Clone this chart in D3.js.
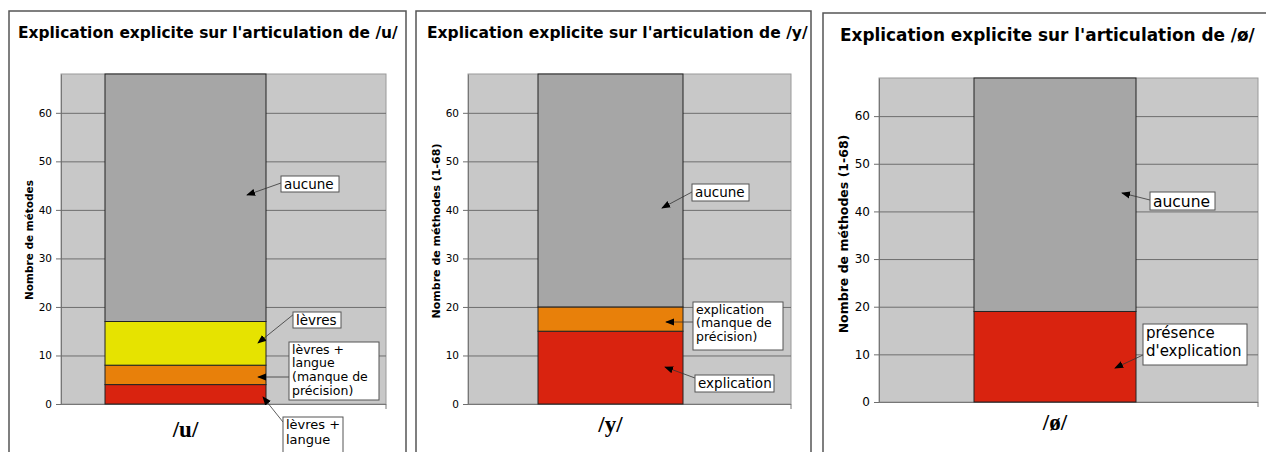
<!DOCTYPE html>
<html><head><meta charset="utf-8">
<script src="https://cdn.jsdelivr.net/npm/d3@7"></script>
<style>
html,body{margin:0;padding:0;background:#fff;}
svg{display:block;}
</style></head>
<body>
<svg id="c" width="1266" height="452"></svg>
<script>
// ---- data ----
const titles = [
  "Explication explicite sur l'articulation de /u/",
  "Explication explicite sur l'articulation de /y/",
  "Explication explicite sur l'articulation de /ø/"
];
const categories = ["/u/", "/y/", "/ø/"];
const yAxisLabels = ["Nombre de métodes", "Nombre de méthodes (1-68)", "Nombre de méthodes (1-68)"];
const yTicks = [0, 10, 20, 30, 40, 50, 60];
const yMax = 68;

// stacked segments (bottom to top)
const uSegments = ["lèvres + langue", "lèvres + langue (manque de précision)", "lèvres", "aucune"];
const uValues = [4, 4, 9, 51];
const ySegments = ["explication", "explication (manque de précision)", "aucune"];
const yValues = [15, 5, 48];
const oeSegments = ["présence d'explication", "aucune"];
const oeValues = [19, 49];

const segColor = {
  "lèvres + langue": "#d9230f",
  "lèvres + langue (manque de précision)": "#e8800a",
  "lèvres": "#e6e300",
  "aucune": "#a6a6a6",
  "explication": "#d9230f",
  "explication (manque de précision)": "#e8800a",
  "présence d'explication": "#d9230f"
};

const SANS = "'DejaVu Sans', Verdana, sans-serif";

// ---- layout (positions only) ----
const panels = [
  { border:[9,11,397,460], plot:[61,386,74,404], bar:[105,266], title:{x:18,y:38,w:380,fs:16},
    ylab:{x:33,y:240,fs:10.5}, tickFs:10.5, cat:{y:437,fs:23},
    segs:uSegments, vals:uValues,
    notes:[
      {seg:"aucune", lines:["aucune"], box:[281,176,339,192], tip:[247,195], from:[281,183], fs:13.5, lh:13},
      {seg:"lèvres", lines:["lèvres"], box:[293,312,341,328], tip:[258,343], from:[294,314], fs:13.5, lh:13},
      {seg:"lèvres + langue (manque de précision)", lines:["lèvres +","langue","(manque de","précision)"], box:[289,342,379,400], tip:[258,377], from:[289,377], fs:12.5, lh:13.6},
      {seg:"lèvres + langue", lines:["lèvres +","langue"], box:[283,417,343,458], tip:[263,397], from:[283,422], fs:13, lh:15}
    ]},
  { border:[416,11,395,460], plot:[468,791,74,404], bar:[538,683], title:{x:427,y:38,w:381,fs:16},
    ylab:{x:440,y:231,fs:11}, tickFs:10.5, cat:{y:432,fs:23},
    segs:ySegments, vals:yValues,
    notes:[
      {seg:"aucune", lines:["aucune"], box:[692,184,749,201], tip:[662,208], from:[692,192], fs:13.5, lh:13},
      {seg:"explication (manque de précision)", lines:["explication","(manque de","précision)"], box:[693,302,783,350], tip:[666,322], from:[693,322], fs:12.5, lh:13.6},
      {seg:"explication", lines:["explication"], box:[695,375,774,392], tip:[665,367], from:[695,378], fs:13.5, lh:13}
    ]},
  { border:[823,13,460,460], plot:[879,1258,78,402], bar:[974,1136], title:{x:840,y:41,w:415,fs:17},
    ylab:{x:848,y:234,fs:12.5}, tickFs:12, cat:{y:430,fs:23},
    segs:oeSegments, vals:oeValues,
    notes:[
      {seg:"aucune", lines:["aucune"], box:[1150,192,1215,210], tip:[1122,193], from:[1150,200], fs:15.5, lh:15},
      {seg:"présence d'explication", lines:["présence","d'explication"], box:[1143,324,1247,365], tip:[1115,368], from:[1143,355], fs:15, lh:17.5}
    ]}
];

const svg = d3.select("#c");
const defs = svg.append("defs");
defs.append("marker").attr("id","arr").attr("viewBox","0 0 10 10").attr("refX",9).attr("refY",5)
  .attr("markerWidth",9).attr("markerHeight",9).attr("markerUnits","userSpaceOnUse").attr("orient","auto")
  .append("path").attr("d","M0,1 L10,5 L0,9 Z").attr("fill","#000");

panels.forEach((p, i) => {
  const g = svg.append("g").style("font-family", SANS);
  // panel frame
  g.append("rect").attr("x",p.border[0]).attr("y",p.border[1]).attr("width",p.border[2]).attr("height",p.border[3])
    .attr("fill","#fff").attr("stroke","#555").attr("stroke-width",1.5);
  // title (horizontally scaled to the reference width)
  const tt = g.append("text").attr("x",0).attr("y",0).style("font-weight","bold").style("font-size",p.title.fs+"px")
    .attr("fill","#000").text(titles[i]);
  const natural = tt.node().getComputedTextLength();
  const sx = p.title.w / natural;
  tt.attr("transform",`translate(${p.title.x},${p.title.y}) scale(${sx},1)`);

  const [px0,px1,py0,py1] = p.plot;
  const y = d3.scaleLinear().domain([0,yMax]).range([py1,py0]);
  const x = d3.scaleBand().domain([categories[i]]).range(p.bar).paddingInner(0).paddingOuter(0);

  // plot background
  g.append("rect").attr("x",px0).attr("y",py0).attr("width",px1-px0).attr("height",py1-py0)
    .attr("fill","#c8c8c8").attr("stroke","#9a9a9a").attr("stroke-width",1);

  // gridlines + y axis
  const ax = g.append("g").attr("transform",`translate(${px0},0)`)
    .call(d3.axisLeft(y).tickValues(yTicks).tickSize(-(px1-px0)).tickSizeOuter(0).tickPadding(9));
  ax.select(".domain").attr("stroke","#777");
  ax.selectAll(".tick line").attr("stroke","#6e6e6e").attr("stroke-width",1);
  ax.selectAll(".tick text").style("font-size",p.tickFs+"px").style("font-family",SANS).attr("fill","#000");
  ax.selectAll(".tick").append("line").attr("x1",-5).attr("x2",0).attr("stroke","#6e6e6e");
  // x axis line
  g.append("line").attr("x1",px0).attr("x2",px1).attr("y1",py1+0.5).attr("y2",py1+0.5).attr("stroke","#777");
  g.append("line").attr("x1",px1).attr("x2",px1).attr("y1",py1).attr("y2",py1+5).attr("stroke","#777");

  // stacked bar
  const ends = d3.cumsum(p.vals);
  const segs = p.segs.map((s,k) => ({seg:s, y0: ends[k]-p.vals[k], y1: ends[k]}));
  g.selectAll("rect.seg").data(segs).enter().append("rect").attr("class","seg")
    .attr("x",x(categories[i])).attr("width",x.bandwidth())
    .attr("y",d=>y(d.y1)).attr("height",d=>y(d.y0)-y(d.y1))
    .attr("fill",d=>segColor[d.seg] || "#a6a6a6").attr("stroke","#222").attr("stroke-width",1);

  // y label
  g.append("text").attr("transform",`translate(${p.ylab.x},${p.ylab.y}) rotate(-90)`)
    .attr("text-anchor","middle").style("font-weight","bold").style("font-size",p.ylab.fs+"px").text(yAxisLabels[i]);

  // category label
  g.append("text").attr("x",x(categories[i])+x.bandwidth()/2).attr("y",p.cat.y).attr("text-anchor","middle")
    .style("font-family","'Liberation Serif', 'Times New Roman', serif").style("font-weight","bold")
    .style("font-size",p.cat.fs+"px").text(categories[i]);

  // annotations
  p.notes.forEach(n => {
    g.append("line").attr("x1",n.from[0]).attr("y1",n.from[1]).attr("x2",n.tip[0]).attr("y2",n.tip[1])
      .attr("stroke","#333").attr("stroke-width",0.8).attr("marker-end","url(#arr)");
    g.append("rect").attr("x",n.box[0]).attr("y",n.box[1]).attr("width",n.box[2]-n.box[0]).attr("height",n.box[3]-n.box[1])
      .attr("fill","#fff").attr("stroke","#555").attr("stroke-width",1);
    const t = g.append("text").style("font-size",n.fs+"px").attr("fill","#000");
    n.lines.forEach((ln,k) => {
      t.append("tspan").attr("x",n.box[0]+3).attr("y",n.box[1]+n.fs*0.95 + k*n.lh).text(ln);
    });
  });
});
</script>
</body></html>
